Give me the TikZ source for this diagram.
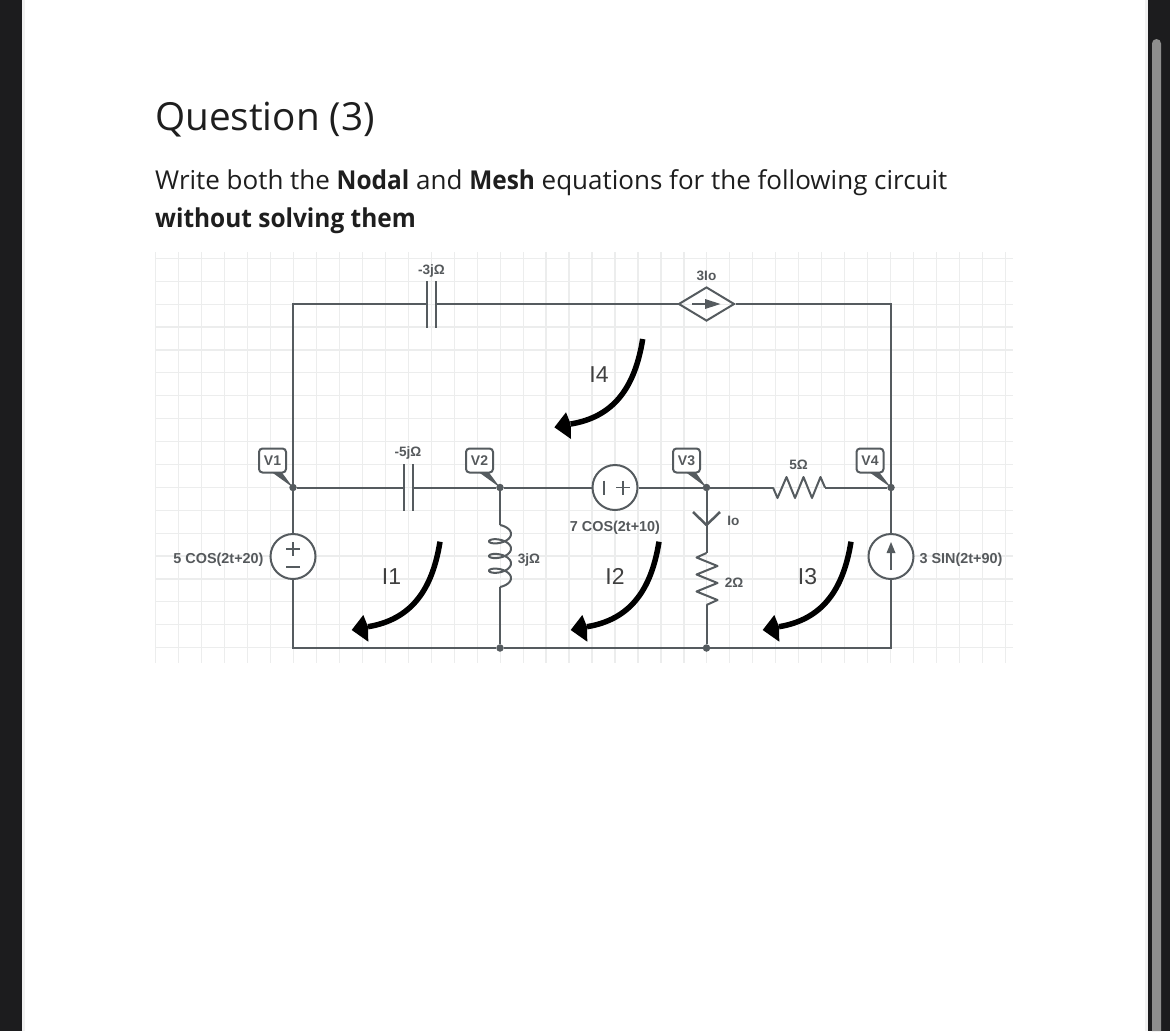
\documentclass[tikz,border=0pt]{standalone}
\usepackage{fontspec}
\setmainfont{Liberation Sans}
\newfontfamily\titlefont[BoldFeatures={FakeStretch=0.94}]{Open Sans}
\usetikzlibrary{shapes.geometric,calc}
\definecolor{wire}{HTML}{555B5F}
\definecolor{gridc}{HTML}{ECEDED}
\definecolor{txt}{HTML}{55595C}
\definecolor{ink}{HTML}{1E1E1E}
\definecolor{chrome}{HTML}{1C1C1E}
\definecolor{thumb}{HTML}{8E8E8E}
\definecolor{strip}{HTML}{F1F1F1}
\tikzset{
  wireline/.style={draw=wire,line width=2pt},
  small/.style={text=txt,font=\fontsize{13.6}{15}\selectfont\bfseries,inner sep=1pt,yshift=-1.5pt},
  wide/.style={small,font=\fontsize{14.4}{16}\selectfont\bfseries},
  tagbox/.style={draw=wire,line width=2pt,rounded corners=3.5pt,fill=white,minimum width=27pt,minimum height=24pt,inner sep=0pt,text=txt,font=\fontsize{14}{15}\selectfont\bfseries},
  src/.style={circle,draw=wire,line width=2pt,minimum size=45pt,inner sep=0pt,fill=white},
  junction/.style={circle,fill=wire,minimum size=7.5pt,inner sep=0pt},
  loopname/.style={text=ink!85,font=\fontsize{23}{25}\selectfont,inner sep=0pt},
  loopline/.style={draw=black,line width=5.5pt},
  body/.style={anchor=base west,inner sep=0pt,text=ink,font=\titlefont\fontsize{26}{30}\selectfont}
}
\newcommand{\loopcurve}[2]{%
  \draw[loopline] (#1,#2) .. controls (#1-8,#2+50) and (#1-30,#2+78) .. (#1-72,#2+85);
  \fill[black] (#1-88.3,#2+88.3) -- (#1-76.7,#2+73.3) -- (#1-72,#2+85) -- (#1-71.7,#2+100) -- cycle;
}
\begin{document}
\begin{tikzpicture}[x=1pt,y=-1pt]
\useasboundingbox (0,0) rectangle (1170,1031);
\fill[chrome] (0,0) rectangle (1170,1031);
\fill[white] (25,0) rectangle (1145,1031);
\fill[strip] (22,0) rectangle (25,1031);
\fill[strip] (1145,0) rectangle (1148,1031);
\fill[thumb] (1152,1031) -- (1152,43.5) arc[start angle=180,end angle=360,radius=4.5] -- (1161,1031) -- cycle;
% page text
\node[body,font=\titlefont\fontsize{38.7}{42}\selectfont] (title) at (155,130) {Question (3)};
\node[body] (line1) at (155,189) {Write both the \textbf{Nodal} and \textbf{Mesh} equations for the following circuit};
\node[body] (line2) at (155,227) {\textbf{without solving them}};
% grid
\foreach \k in {0,...,37} \draw[gridc,line width=1.2pt] ({155.6+22.97*\k},252) -- ({155.6+22.97*\k},663);
\foreach \k in {0,...,17} \draw[gridc,line width=1.2pt] (155,{258.3+22.9*\k}) -- (1013,{258.3+22.9*\k});
% corner points
\coordinate (tl) at (293,304);
\coordinate (tr) at (891,304);
\coordinate (bl) at (293,648);
\coordinate (br) at (891,648);
\node[junction] (n1) at (293,487.5) {};
\node[junction] (n2) at (500,487.5) {};
\node[junction] (n3) at (706.5,487.5) {};
\node[junction] (n4) at (891,487.5) {};
\node[junction] (b2) at (500,648) {};
\node[junction] (b3) at (706.5,648) {};
% wires
\coordinate (c1a) at (426.7,304); \coordinate (c1b) at (435.7,304);
\coordinate (c2a) at (404,487.5); \coordinate (c2b) at (412.7,487.5);
\node[diamond,draw=wire,line width=2pt,minimum width=56pt,minimum height=34pt,inner sep=0pt,aspect=1.63] (dep) at (706.5,304) {};
\node[src] (vs) at (293,556.5) {};
\node[src] (is) at (891,556.5) {};
\node[src] (v7) at (615,487.5) {};
\coordinate (l1) at (500,525); \coordinate (l2) at (500,587);
\coordinate (r2a) at (706.5,553); \coordinate (r2b) at (706.5,605);
\coordinate (r5a) at (773,487.5); \coordinate (r5b) at (825,487.5);
\draw[wireline] (c1a) -- (tl) -- (n1) -- (c2a);
\draw[wireline] (c1b) -- (dep.west);
\draw[wireline] (dep.east) -- (tr) -- (n4);
\draw[wireline] (c2b) -- (n2) -- (v7.west);
\draw[wireline] (v7.east) -- (n3) -- (r5a);
\draw[wireline] (r5b) -- (n4);
\draw[wireline] (n1) -- (vs.north);
\draw[wireline] (vs.south) -- (bl) -- (b2) -- (b3) -- (br) -- (is.south);
\draw[wireline] (n4) -- (is.north);
\draw[wireline] (n2) -- (l1);
\draw[wireline] (l2) -- (b2);
\draw[wireline] (n3) -- (r2a);
\draw[wireline] (r2b) -- (b3);
% capacitors
\draw[wireline] (426.7,281) -- (426.7,328) (435.7,281) -- (435.7,328);
\draw[wireline] (404,464) -- (404,511) (412.7,464) -- (412.7,511);
% inductor
\draw[wireline,line join=round] plot[smooth,domain=0:1260,samples=160] ({500+11*sin(\x)},{525+\x/1260*51.5+5.25*(1-cos(\x))});
% resistors
\draw[wireline,line join=round] (r5a) -- ++(4.5,10.5) -- ++(9,-21) -- ++(8.5,21) -- ++(8.5,-21) -- ++(8.5,21) -- ++(8.5,-21) -- (r5b);
\draw[wireline,line join=round] (r2a) -- ++(-10,4.5) -- ++(21,8.5) -- ++(-21,8.5) -- ++(21,8.5) -- ++(-21,8.5) -- ++(21,8.5) -- (r2b);
% Io chevron
\draw[wire,line width=2.5pt,line join=round] (693,512) -- (706.5,525) -- (720,512);
% source symbols
\draw[wire,line width=1.5pt] (286,549) -- (300,549) (293,542) -- (293,556) (286,567) -- (300,567);
\draw[wire,line width=1.5pt] (604,480.5) -- (604,494.5) (616,487.5) -- (630,487.5) (623,480.5) -- (623,494.5);
\draw[wire,line width=1.8pt] (891,570) -- (891,550);
\fill[wire] (891,542) -- (895.5,553) -- (886.5,553) -- cycle;
\draw[wire,line width=1.8pt] (692,304) -- (710,304);
\fill[wire] (720.5,304) -- (705,299) -- (705,309) -- cycle;
% tags
\foreach \nm/\lab/\x/\tgt in {t1/V1/272.5/n1,t2/V2/479.5/n2,t3/V3/686.5/n3,t4/V4/870/n4}{
  \fill[wire] (\x-1,472) -- (\x+9,472) -- (\tgt.center) -- cycle;
  \node[tagbox] (\nm) at (\x,460.5) {\lab};
}
% component labels
\node[small] (lc1) at (431.5,269) {-3jΩ};
\node[small] (ldep) at (706.5,274) {3Io};
\node[small] (lc2) at (408,451.5) {-5jΩ};
\node[small] (lr5) at (798.5,463) {5Ω};
\node[small] (ll) at (529,558) {3jΩ};
\node[wide] (lv7) at (615,526) {7 COS(2t+10)};
\node[small] (lio) at (733.5,519) {Io};
\node[small] (lr2) at (734,581) {2Ω};
\node[wide] (lvs) at (218.5,558) {5 COS(2t+20)};
\node[wide] (lis) at (961,558) {3 SIN(2t+90)};
% mesh arrows
\node[loopname] (i1) at (391.5,576.5) {I1};
\node[loopname] (i2) at (615,576.5) {I2};
\node[loopname] (i3) at (807.5,576.5) {I3};
\node[loopname] (i4) at (599,375) {I4};
\loopcurve{440}{541.7}
\loopcurve{659}{541.7}
\loopcurve{851}{541.7}
\loopcurve{642.7}{339}
\end{tikzpicture}
\end{document}
